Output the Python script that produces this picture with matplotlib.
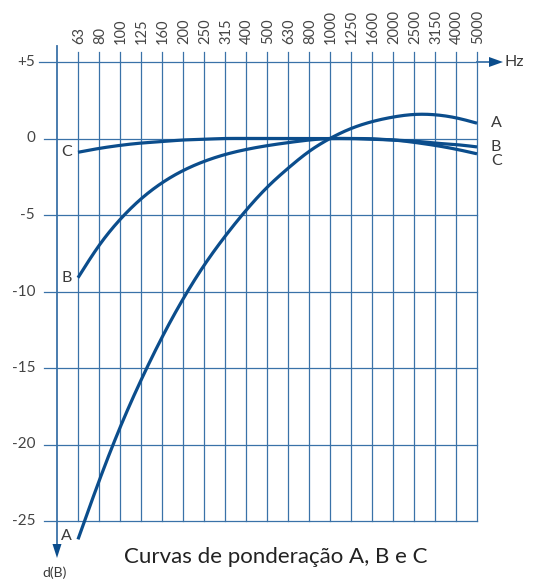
import matplotlib
matplotlib.use('Agg')
import matplotlib.pyplot as plt
import numpy as np

plt.rcParams['font.family'] = ['Lato', 'DejaVu Sans']

freqs = ['63', '80', '100', '125', '160', '200', '250', '315', '400', '500',
         '630', '800', '1000', '1250', '1600', '2000', '2500', '3150', '4000', '5000']
db_ticks = [5, 0, -5, -10, -15, -20, -25]
db_labels = ['+5', '0', '-5', '-10', '-15', '-20', '-25']

# weighting curves (dB)
curve_a = [-26.2, -22.4, -18.9, -15.8, -13.0, -10.5, -8.3, -6.4, -4.7, -3.2,
           -1.95, -0.85, 0.0, 0.65, 1.1, 1.4, 1.57, 1.55, 1.35, 1.0]
curve_b = [-9.1, -7.0, -5.3, -3.95, -2.9, -2.1, -1.5, -1.05, -0.72, -0.47,
           -0.27, -0.1, 0.0, 0.0, -0.02, -0.1, -0.17, -0.3, -0.4, -0.55]
curve_c = [-0.9, -0.65, -0.45, -0.3, -0.2, -0.1, -0.05, 0.0, 0.0, 0.0,
           0.0, 0.0, 0.0, 0.0, -0.05, -0.1, -0.25, -0.45, -0.7, -1.0]

grid_col = '#3a72a8'
line_col = '#0b4d8c'
txt_col = '#3a3a3a'

W, H = 547, 581
fig = plt.figure(figsize=(W / 100, H / 100), dpi=100)
ax = fig.add_axes([0, 0, 1, 1])

# pixel -> data mapping: index -1 at px 57, step 21 px; +5 dB at px 62, 15.3 px per dB
px_x, px_step = 57, 21.0
py5, py_db = 62, 15.3
ax.set_xlim(-1 - px_x / px_step, -1 + (W - px_x) / px_step)
ax.set_ylim(5 - (H - py5) / py_db, 5 + py5 / py_db)
ax.axis('off')

def dx(px):
    return px / px_step

def dy(px):
    return px / py_db

def spline(x, y, xs):
    # natural cubic spline through the read points
    x = np.asarray(x, float)
    y = np.asarray(y, float)
    n = len(x)
    h = np.diff(x)
    A = np.zeros((n, n))
    r = np.zeros(n)
    A[0, 0] = A[-1, -1] = 1
    for i in range(1, n - 1):
        A[i, i - 1] = h[i - 1]
        A[i, i] = 2 * (h[i - 1] + h[i])
        A[i, i + 1] = h[i]
        r[i] = 3 * ((y[i + 1] - y[i]) / h[i] - (y[i] - y[i - 1]) / h[i - 1])
    c = np.linalg.solve(A, r)
    b = (y[1:] - y[:-1]) / h - h * (2 * c[:-1] + c[1:]) / 3
    d = (c[1:] - c[:-1]) / (3 * h)
    k = np.clip(np.searchsorted(x, xs) - 1, 0, n - 2)
    t = xs - x[k]
    return y[k] + b[k] * t + c[k] * t ** 2 + d[k] * t ** 3

ix = np.arange(len(freqs))
xlast = ix[-1]

# vertical grid lines
for i in ix:
    ax.plot([i, i], [-25, 5 + dy(10)], color=grid_col, lw=0.9, zorder=1)

# horizontal grid lines
for v in db_ticks:
    x0 = -1 - dx(18) if v == 5 else -1 - dx(13)
    ax.plot([x0, xlast], [v, v], color=grid_col, lw=0.9, zorder=1)

# axes with arrows
ax.plot([-1, -1], [5 + dy(16), -25 - dy(24)], color=grid_col, lw=1.3, zorder=2)
ax.plot([xlast, xlast + dx(14)], [5, 5], color=grid_col, lw=1.3, zorder=2)
ax.fill([xlast + dx(12), xlast + dx(12), xlast + dx(26)],
        [5 + dy(5), 5 - dy(5), 5], color=line_col, lw=0, zorder=3)
ax.fill([-1 - dx(4.5), -1 + dx(4.5), -1],
        [-25 - dy(23), -25 - dy(23), -25 - dy(37)], color=line_col, lw=0, zorder=3)
ax.text(xlast + dx(27), 5, 'Hz', ha='left', va='center', fontsize=11.5, color=txt_col)
ax.text(-1 + dx(-2), -25 - dy(52), 'd(B)', ha='center', va='center', fontsize=10, color=txt_col)

# tick labels
for i, f in zip(ix, freqs):
    ax.text(i + 0.05, 5 + dy(18), f, rotation=90, ha='center', va='bottom',
            fontsize=10.5, color='#444444')
for v, lab in zip(db_ticks, db_labels):
    ax.text(-1 - dx(22), v, lab, ha='right', va='center', fontsize=11, color='#444444')

# curves
xs = np.linspace(0, xlast, 500)
for vals in (curve_a, curve_b, curve_c):
    ax.plot(xs, spline(ix, vals, xs), color=line_col, lw=2.3,
            solid_capstyle='butt', zorder=4)

# curve labels
ax.text(xlast + dx(14), curve_a[-1], 'A', ha='left', va='center', fontsize=11.5, color=txt_col)
ax.text(xlast + dx(14), -0.55, 'B', ha='left', va='center', fontsize=11.5, color=txt_col)
ax.text(xlast + dx(14), -1.45, 'C', ha='left', va='center', fontsize=11.5, color=txt_col)
ax.text(-dx(6), curve_c[0], 'C', ha='right', va='center', fontsize=11.5, color=txt_col)
ax.text(-dx(6), curve_b[0], 'B', ha='right', va='center', fontsize=11.5, color=txt_col)
ax.text(-dx(6), -26.0, 'A', ha='right', va='center', fontsize=11.5, color=txt_col)

ax.text(dx(277 - 79), 5 - dy(557 - 62), 'Curvas de ponderação A, B e C',
        ha='center', va='center', fontsize=16, color='#222222')

fig.savefig('out.png', dpi=100)
